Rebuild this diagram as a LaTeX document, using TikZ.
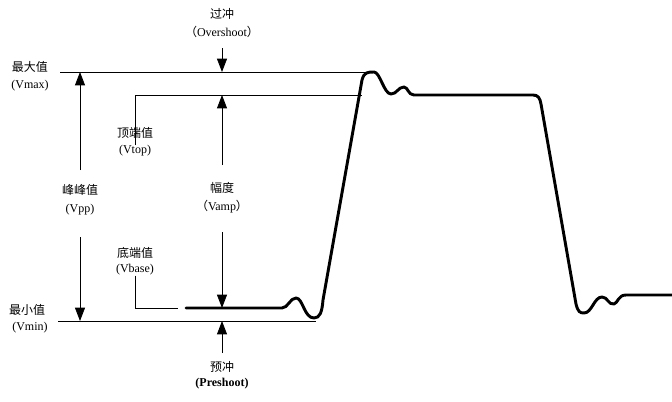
\documentclass[tikz,border=0pt]{standalone}
\usepackage{fontspec}
\setmainfont{Liberation Serif}
\newfontfamily\cjk{Noto Sans CJK SC}
\usetikzlibrary{arrows.meta}
\begin{document}
\begin{tikzpicture}[x=0.75pt,y=-0.75pt]
        \tikzset{lbl/.style={inner sep=0pt,font=\fontsize{9}{10}\selectfont},
          tip/.style={-{Triangle[width=7.5pt,length=10pt]}},
          thin line/.style={line width=0.6pt},
          wave/.style={line width=2.2pt,line join=round,line cap=round}}
        \useasboundingbox (0,0) rectangle (672,401);
        % labels
        \node[lbl] (os) at (222,14) {\cjk 过冲};
        \node[lbl] (osn) at (222,32) {\cjk （\rmfamily Overshoot\cjk ）};
        \node[lbl] (max) at (30,67) {\cjk 最大值};
        \node[lbl] (maxn) at (30,86) {(Vmax)};
        \node[lbl] (top) at (135,133) {\cjk 顶端值};
        \node[lbl] (topn) at (135,151) {(Vtop)};
        \node[lbl] (pp) at (80,190) {\cjk 峰峰值};
        \node[lbl] (ppn) at (80,210) {(Vpp)};
        \node[lbl] (amp) at (222,188) {\cjk 幅度};
        \node[lbl] (ampn) at (222,207) {\cjk （\rmfamily Vamp\cjk ）};
        \node[lbl] (base) at (135,253) {\cjk 底端值};
        \node[lbl] (basen) at (135,270) {(Vbase)};
        \node[lbl] (min) at (27,310) {\cjk 最小值};
        \node[lbl] (minn) at (30,328) {(Vmin)};
        \node[lbl] (ps) at (222,367) {\cjk 预冲};
        \node[lbl] (psn) at (222,384) {\bfseries (Preshoot)};
        % level lines
        \coordinate (maxL) at (60,72);   \coordinate (maxR) at (372,72);
        \coordinate (topL) at (135,95);  \coordinate (topR) at (362,95);
        \coordinate (baseL) at (135,308); \coordinate (baseR) at (178,308);
        \coordinate (minL) at (58,321);  \coordinate (minR) at (316,321);
        \draw[thin line] (maxL) -- (maxR);
        \draw[thin line] (topn.north -| topL) -- (topL) -- (topR);
        \draw[thin line] (basen.south -| baseL) -- (baseL) -- (baseR);
        \draw[thin line] (minL) -- (minR);
        % arrows
        \draw[thin line,tip] (ppn.south |- 0,170) -- (80,72);
        \draw[thin line,tip] (80,237) -- (80,321);
        \draw[thin line,tip] (222,165) -- (222,95);
        \draw[thin line,tip] (222,232) -- (222,308);
        \draw[thin line,tip] (222,48) -- (222,72);
        \draw[thin line,tip] (222,353) -- (222,321);
        % waveform
        \draw[wave] (186,308) -- (282,308)
          .. controls (288,308) and (290,298) .. (296,298)
          .. controls (303,298) and (304,318) .. (314,318)
          .. controls (320,318) and (322,312) .. (323,300)
          -- (362,80) .. controls (364,72) and (368,72) .. (374,72)
          .. controls (380,72) and (384,94) .. (391,94)
          .. controls (397,94) and (398,87) .. (404,87)
          .. controls (408,87) and (408,95) .. (414,95)
          -- (533,95) .. controls (538,95) and (540,98) .. (541,104)
          -- (576,304) .. controls (578,312) and (580,313) .. (584,313)
          .. controls (592,313) and (594,297) .. (602,297)
          .. controls (608,297) and (608,305) .. (614,304)
          .. controls (618,303) and (618,295) .. (626,295) -- (672,295);
\end{tikzpicture}
\end{document}
